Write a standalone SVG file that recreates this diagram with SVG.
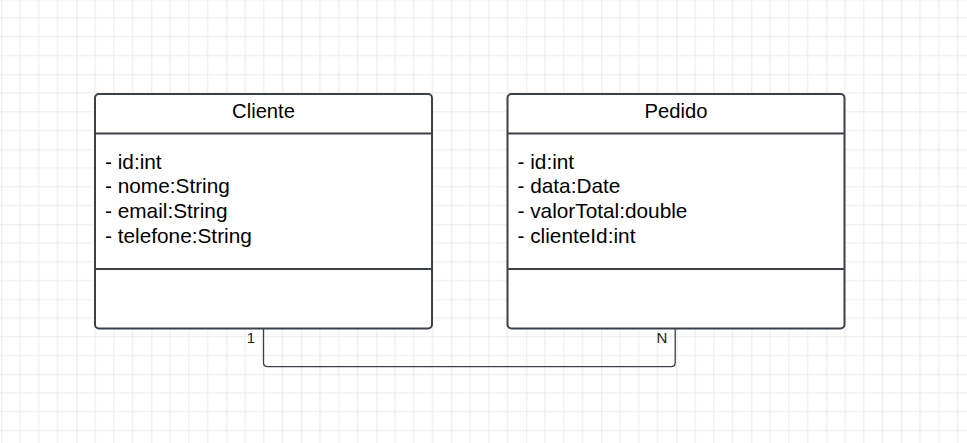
<svg xmlns="http://www.w3.org/2000/svg" width="967" height="443" viewBox="0 0 967 443">
<style>
.box{fill:#ffffff;stroke:#3a414a;stroke-width:2}
.div{stroke:#3a414a;stroke-width:2;fill:none}
.title{font-family:"Liberation Sans",Arial,sans-serif;font-size:20.2px;fill:#000;text-anchor:middle}
.attr{font-family:"Liberation Sans",Arial,sans-serif;font-size:20.8px;fill:#000}
.lbl{font-family:"Liberation Sans",Arial,sans-serif;font-size:15px;fill:#222;text-anchor:middle}
.conn{fill:none;stroke:#3a414a;stroke-width:1.3}
</style>
<defs>
<pattern id="grid" patternUnits="userSpaceOnUse" x="1.3" y="-0.7" width="75" height="75">
<path d="M18.75 0V75M37.5 0V75M56.25 0V75M0 18.75H75M0 37.5H75M0 56.25H75" stroke="#ededed" stroke-width="1.2" fill="none"/>
<path d="M0 0V75M0 0H75" stroke="#dadada" stroke-width="1.2" fill="none"/>
</pattern>
</defs>
<rect x="0" y="0" width="967" height="443" fill="#ffffff"/>
<rect x="0" y="0" width="967" height="443" fill="url(#grid)"/>
<g id="connectors">
<path class="conn" d="M263.5 329V362.5Q263.5 366.7 267.7 366.7H671Q675.2 366.7 675.2 362.5V329"/>
<text class="lbl" x="251" y="343">1</text>
<text class="lbl" x="662" y="343">N</text>
</g>
<g id="cliente">
<rect class="box" x="95" y="94" width="337" height="234.5" rx="4"/>
<path class="div" d="M95 133.5H432M95 269H432"/>
<text class="title" x="263.5" y="118.3">Cliente</text>
<text class="attr" x="105" y="168.5">- id:int</text>
<text class="attr" x="105" y="193.3">- nome:String</text>
<text class="attr" x="105" y="218">- email:String</text>
<text class="attr" x="105" y="242.8">- telefone:String</text>
</g>
<g id="pedido">
<rect class="box" x="507.5" y="94" width="337" height="234.5" rx="4"/>
<path class="div" d="M507.5 133.5H844.5M507.5 269H844.5"/>
<text class="title" x="676" y="118.3">Pedido</text>
<text class="attr" x="517.5" y="168.5">- id:int</text>
<text class="attr" x="517.5" y="193.3">- data:Date</text>
<text class="attr" x="517.5" y="218">- valorTotal:double</text>
<text class="attr" x="517.5" y="242.8">- clienteId:int</text>
</g>
</svg>
